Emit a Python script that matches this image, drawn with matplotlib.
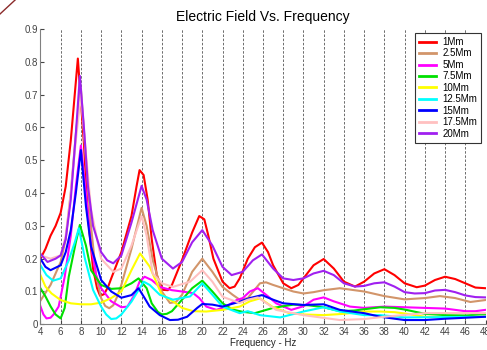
import matplotlib.pyplot as plt
from matplotlib.lines import Line2D

plt.rcParams['font.family'] = ['Liberation Sans', 'DejaVu Sans']

labels = ['1Mm', '2.5Mm', '5Mm', '7.5Mm', '10Mm', '12.5Mm', '15Mm', '17.5Mm', '20Mm']
colors = ['#ff0000', '#d2956a', '#ff00ff', '#00e000', '#ffff00', '#00ffff',
          '#0000ff', '#ffc0c0', '#a020f0']

# 1Mm
f_1 = [4, 4.5, 5, 5.5, 6, 6.5, 7, 7.7, 8.3, 8.7, 9.2, 9.6, 9.9, 10.3, 10.7, 11, 12, 13,
       13.5, 13.8, 14.2, 14.6, 15, 15.5, 16.1, 16.6, 17, 18, 19, 19.7, 20.2, 20.6, 21.1,
       22, 22.7, 23.2, 23.7, 24.5, 25.2, 25.9, 26.5, 27, 28, 28.8, 29.5, 30, 31, 32, 33,
       34, 35.1, 36, 37, 38, 39, 40, 41.2, 42, 43, 44, 45, 46, 47, 48]
e_1 = [0.20, 0.23, 0.27, 0.30, 0.34, 0.42, 0.56, 0.81, 0.55, 0.33, 0.17, 0.11, 0.087,
       0.092, 0.115, 0.14, 0.22, 0.33, 0.42, 0.47, 0.455, 0.38, 0.26, 0.15, 0.105, 0.104,
       0.12, 0.196, 0.28, 0.33, 0.32, 0.27, 0.20, 0.13, 0.11, 0.115, 0.14, 0.20, 0.235,
       0.249, 0.22, 0.18, 0.125, 0.11, 0.12, 0.14, 0.18, 0.199, 0.17, 0.13, 0.115, 0.13,
       0.155, 0.168, 0.15, 0.125, 0.113, 0.118, 0.135, 0.145, 0.138, 0.125, 0.112, 0.11]

# 2.5Mm
f_2 = [4, 5, 6, 6.5, 7, 7.5, 8, 8.5, 9, 9.5, 10, 10.4, 10.8, 11.2, 11.6, 12, 13, 14, 14.5,
       15.1, 16, 16.8, 17.4, 18, 19, 20, 21, 22, 23, 23.7, 24.5, 25.7, 26.3, 27, 28, 29, 30,
       31, 32, 33.6, 36, 38, 40, 42, 43.5, 45, 46.5, 48]
e_2 = [0.072, 0.12, 0.19, 0.26, 0.40, 0.58, 0.72, 0.50, 0.30, 0.15, 0.08, 0.056, 0.049,
       0.058, 0.085, 0.12, 0.23, 0.355, 0.30, 0.196, 0.10, 0.065, 0.068, 0.09, 0.16,
       0.20, 0.16, 0.114, 0.09, 0.075, 0.08, 0.125, 0.128, 0.12, 0.11, 0.10, 0.094, 0.098,
       0.104, 0.11, 0.10, 0.086, 0.076, 0.08, 0.086, 0.08, 0.068, 0.074]

# 5Mm
f_3 = [4, 4.3, 4.6, 5.0, 5.3, 5.8, 6.4, 7, 7.5, 8, 8.5, 9, 9.5, 10, 11, 12, 12.6, 13.3,
       13.8, 14.3, 15, 15.8, 17, 18, 19.1, 19.7, 20.4, 21.4, 22.4, 23.4, 24, 24.7, 25.5,
       26.5, 27.3, 28.8, 30, 31, 32, 33, 34.6, 36, 38, 40, 42, 44, 46, 47, 48]
e_3 = [0.055, 0.03, 0.018, 0.02, 0.03, 0.054, 0.145, 0.27, 0.42, 0.545, 0.40, 0.24,
       0.15, 0.11, 0.07, 0.052, 0.054, 0.09, 0.13, 0.145, 0.135, 0.114, 0.104, 0.10,
       0.095, 0.08, 0.054, 0.044, 0.055, 0.074, 0.08, 0.10, 0.11, 0.085, 0.064, 0.044,
       0.055, 0.075, 0.082, 0.07, 0.054, 0.05, 0.054, 0.052, 0.05, 0.048, 0.04, 0.04,
       0.044]

# 7.5Mm
f_4 = [4, 4.5, 5, 5.5, 6, 6.4, 6.8, 7.5, 7.9, 8.5, 9, 10, 11, 12, 13, 13.7, 14.5, 15,
       15.6, 16, 16.5, 17, 18, 19, 20, 21, 22, 23, 24, 25.2, 27, 29, 30.5, 32, 33.6, 35,
       37.6, 39, 40, 42, 44, 46, 48]
e_4 = [0.11, 0.085, 0.055, 0.03, 0.018, 0.05, 0.145, 0.25, 0.303, 0.24, 0.165, 0.12,
       0.108, 0.11, 0.125, 0.14, 0.11, 0.064, 0.038, 0.03, 0.032, 0.04, 0.075, 0.11,
       0.133, 0.10, 0.064, 0.045, 0.038, 0.034, 0.05, 0.06, 0.058, 0.052, 0.04, 0.042,
       0.052, 0.05, 0.045, 0.032, 0.028, 0.027, 0.031]

# 10Mm
f_5 = [4, 4.5, 5.1, 6, 7, 8, 9, 10, 11, 12, 13, 13.85, 14.8, 16, 17.1, 18, 19.1, 20.4, 22,
       23.7, 24.7, 25.7, 27, 28.6, 30, 32, 34, 36, 37.6, 39, 40, 42, 44, 46, 48]
e_5 = [0.15, 0.115, 0.094, 0.074, 0.064, 0.061, 0.061, 0.066, 0.08, 0.10, 0.165, 0.216,
       0.176, 0.09, 0.07, 0.05, 0.04, 0.039, 0.044, 0.054, 0.07, 0.079, 0.052, 0.034,
       0.03, 0.028, 0.032, 0.039, 0.039, 0.037, 0.033, 0.023, 0.022, 0.022, 0.023]

# 12.5Mm
f_6 = [4, 4.6, 5.25, 6, 6.8, 7.4, 7.8, 8.4, 9.2, 10, 10.5, 11, 11.5, 12, 13, 14.2, 14.8,
       15.8, 17.1, 18.8, 20, 21, 22, 23.7, 24.5, 25.7, 27.7, 30, 32, 33.6, 36, 37.6, 40,
       44, 48]
e_6 = [0.18, 0.15, 0.133, 0.14, 0.195, 0.25, 0.293, 0.20, 0.105, 0.054, 0.03, 0.016,
       0.018, 0.03, 0.069, 0.13, 0.12, 0.09, 0.075, 0.085, 0.125, 0.09, 0.054, 0.034,
       0.04, 0.028, 0.021, 0.039, 0.052, 0.039, 0.028, 0.028, 0.021, 0.022, 0.023]

# 15Mm
f_7 = [4, 4.5, 5, 6, 6.5, 7, 7.5, 8, 8.5, 9, 10, 11, 12, 13, 13.7, 14.3, 14.8, 15.8, 16.8,
       17.6, 18.5, 19.5, 20, 21, 22, 23.7, 24.7, 25.9, 27, 28, 30, 32, 33.6, 36, 37.6, 40,
       42, 44, 46, 48]
e_7 = [0.20, 0.175, 0.165, 0.18, 0.22, 0.287, 0.40, 0.531, 0.36, 0.237, 0.135, 0.10,
       0.081, 0.089, 0.11, 0.08, 0.054, 0.028, 0.013, 0.014, 0.023, 0.05, 0.062, 0.06,
       0.054, 0.069, 0.08, 0.089, 0.075, 0.064, 0.059, 0.061, 0.044, 0.034, 0.023, 0.013,
       0.013, 0.017, 0.02, 0.023]

# 17.5Mm
f_8 = [4, 5, 6, 6.5, 7, 7.5, 8, 8.5, 9, 10, 11.2, 12, 13, 14, 14.5, 15.1, 16, 17.1, 18.8,
       20, 21, 22, 23.7, 24.5, 25.5, 27.3, 30, 33.6, 36, 38, 42, 48]
e_8 = [0.21, 0.20, 0.21, 0.27, 0.40, 0.56, 0.70, 0.52, 0.35, 0.20, 0.16, 0.17, 0.24,
       0.33, 0.27, 0.155, 0.125, 0.114, 0.13, 0.165, 0.13, 0.084, 0.065, 0.075, 0.082,
       0.044, 0.028, 0.013, 0.016, 0.023, 0.034, 0.034]

# 20Mm
f_9 = [4, 4.7, 5.5, 6, 6.5, 7, 7.5, 7.9, 8.3, 8.7, 9.2, 10, 10.6, 11.2, 12, 13, 14, 14.5,
       15.1, 16, 17.1, 18, 19, 20, 21, 22, 22.9, 24, 25, 25.9, 27, 28, 29, 30, 31, 32, 33,
       34, 35.1, 36, 37, 38, 39, 40, 41, 42, 43, 44, 45, 46, 47, 48]
e_9 = [0.215, 0.19, 0.20, 0.21, 0.26, 0.38, 0.58, 0.757, 0.60, 0.42, 0.30, 0.22, 0.195,
       0.186, 0.21, 0.31, 0.422, 0.38, 0.287, 0.20, 0.17, 0.19, 0.25, 0.287, 0.24, 0.175,
       0.15, 0.16, 0.195, 0.213, 0.17, 0.14, 0.135, 0.14, 0.155, 0.163, 0.15, 0.125,
       0.115, 0.117, 0.125, 0.128, 0.115, 0.098, 0.094, 0.095, 0.103, 0.105, 0.098,
       0.088, 0.083, 0.082]

freqs = [f_1, f_2, f_3, f_4, f_5, f_6, f_7, f_8, f_9]
fields = [e_1, e_2, e_3, e_4, e_5, e_6, e_7, e_8, e_9]

fig = plt.figure(figsize=(4.87, 3.5), dpi=100)
ax = fig.add_axes([0.083, 0.0734, 0.914, 0.8437])

# dashed vertical grid at every tick
for xv in range(6, 48, 2):
    ax.axvline(xv, color='#555555', lw=0.6, ls=(0, (3, 2)), zorder=0)

for f, e, c, lab in zip(freqs, fields, colors, labels):
    ax.plot(f, e, color=c, lw=1.5, label=lab, solid_joinstyle='round')

ax.set_xlim(4, 48)
ax.set_ylim(0, 0.9)
ax.set_xticks(range(4, 49, 2))
ax.set_yticks([0, 0.1, 0.2, 0.3, 0.4, 0.5, 0.6, 0.7, 0.8, 0.9])
ax.set_yticklabels(['0', '0.1', '0.2', '0.3', '0.4', '0.5', '0.6', '0.7', '0.8', '0.9'])
ax.tick_params(direction='in', length=3, labelsize=7, colors='#444444', width=0.8,
               pad=2)
ax.spines['top'].set_visible(False)
ax.spines['right'].set_visible(False)
for s in ('left', 'bottom'):
    ax.spines[s].set_color('#808080')

ax.set_title('Electric Field Vs. Frequency', fontsize=10, pad=6)
ax.set_xlabel('Frequency - Hz', fontsize=7, labelpad=1, color='#222222')

leg = ax.legend(loc='upper right', bbox_to_anchor=(0.99, 0.986), borderaxespad=0,
                fontsize=7, handlelength=1.7, handletextpad=0.7, labelspacing=0.15,
                borderpad=0.4, fancybox=False, framealpha=1, edgecolor='#333333')
for h in leg.get_lines():
    h.set_linewidth(2)
leg.get_frame().set_linewidth(0.8)

# small stroke in the top-left corner
fig.add_artist(Line2D([0.0, 0.031], [0.96, 1.0], transform=fig.transFigure,
                      color='#8b2a2a', lw=1))

fig.savefig('out.png', dpi=100)
